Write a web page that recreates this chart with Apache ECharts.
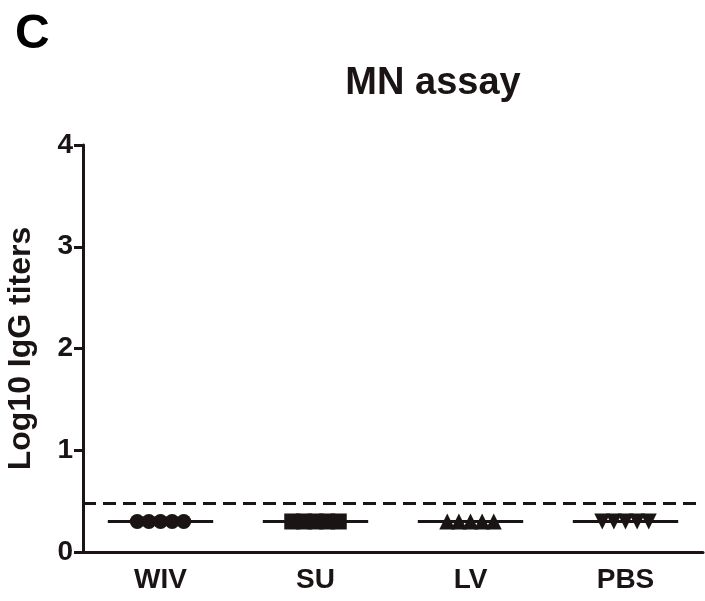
<!DOCTYPE html>
<html>
<head>
<meta charset="utf-8">
<script src="https://cdn.jsdelivr.net/npm/echarts@6/dist/echarts.min.js"></script>
<style>
  html, body { margin: 0; padding: 0; background: #fff; }
  #chart { width: 705px; height: 601px; }
</style>
</head>
<body>
<div id="chart"></div>
<script>
const groups = ["WIV", "SU", "LV", "PBS"];
const wivValues = [0.3, 0.3, 0.3, 0.3, 0.3];
const suValues = [0.3, 0.3, 0.3, 0.3, 0.3];
const lvValues = [0.3, 0.3, 0.3, 0.3, 0.3];
const pbsValues = [0.3, 0.3, 0.3, 0.3, 0.3];
const cutoff = 0.48;
const yTicks = [0, 1, 2, 3, 4];

const groupValues = [wivValues, suValues, lvValues, pbsValues];
const symbols = ["circle", "rect", "triangle", "path://M0,0 L10,0 L5,9 Z"];
const symbolSizes = [15, 16, 16, 16];
// horizontal spread of the five points inside a group
const jitter = [-0.15, -0.075, 0, 0.075, 0.15];
const ink = "#1a1414";

const chart = echarts.init(document.getElementById("chart"));

const series = [];
groupValues.forEach((vals, gi) => {
  const mean = vals.reduce((a, b) => a + b, 0) / vals.length;
  series.push({
    type: "line",
    xAxisIndex: 1,
    data: [[gi - 0.34, mean], [gi + 0.34, mean]],
    symbol: "none",
    lineStyle: { color: ink, width: 3 },
    silent: true,
    z: 2
  });
  series.push({
    type: "scatter",
    xAxisIndex: 1,
    data: vals.map((v, j) => [gi + jitter[j], v]),
    symbol: symbols[gi],
    symbolSize: symbolSizes[gi],
    itemStyle: { color: ink, opacity: 1 },
    z: 3
  });
});

series.push({
  type: "line",
  xAxisIndex: 1,
  data: [],
  markLine: {
    silent: true,
    symbol: "none",
    label: { show: false },
    lineStyle: { color: ink, width: 3, type: [13, 7] },
    data: [{ yAxis: cutoff }]
  }
});

const option = {
  animation: false,
  textStyle: { fontFamily: "Liberation Sans, Arial, sans-serif" },
  title: [
    {
      text: "C",
      left: 10,
      top: 6,
      textStyle: { fontSize: 48, fontWeight: "bold", color: "#000" }
    },
    {
      text: "MN assay",
      left: 428,
      top: 60,
      textAlign: "center",
      textStyle: { fontSize: 38, fontWeight: "bold", color: ink }
    }
  ],
  grid: { left: 83, right: 2, top: 145, bottom: 49, outerBoundsMode: "none" },
  xAxis: [
    {
      type: "category",
      data: groups,
      boundaryGap: true,
      axisLine: { lineStyle: { color: ink, width: 3 } },
      axisTick: { alignWithLabel: true, length: 10, lineStyle: { color: ink, width: 3 } },
      axisLabel: { color: ink, fontSize: 28, fontWeight: "bold", margin: 14 },
      splitLine: { show: false }
    },
    {
      type: "value",
      min: -0.5,
      max: 3.5,
      show: false
    }
  ],
  yAxis: {
    type: "value",
    min: yTicks[0],
    max: yTicks[yTicks.length - 1],
    interval: 1,
    name: "Log10 IgG titers",
    nameLocation: "middle",
    nameGap: 46,
    nameTextStyle: { fontSize: 32, fontWeight: "bold", color: ink },
    axisLine: { show: true, onZero: false, lineStyle: { color: ink, width: 3 } },
    axisTick: { show: true, length: 9, lineStyle: { color: ink, width: 3 } },
    axisLabel: { color: ink, fontSize: 28, fontWeight: "bold", margin: 10 },
    splitLine: { show: false }
  },
  series: series
};

chart.setOption(option);
</script>
</body>
</html>
